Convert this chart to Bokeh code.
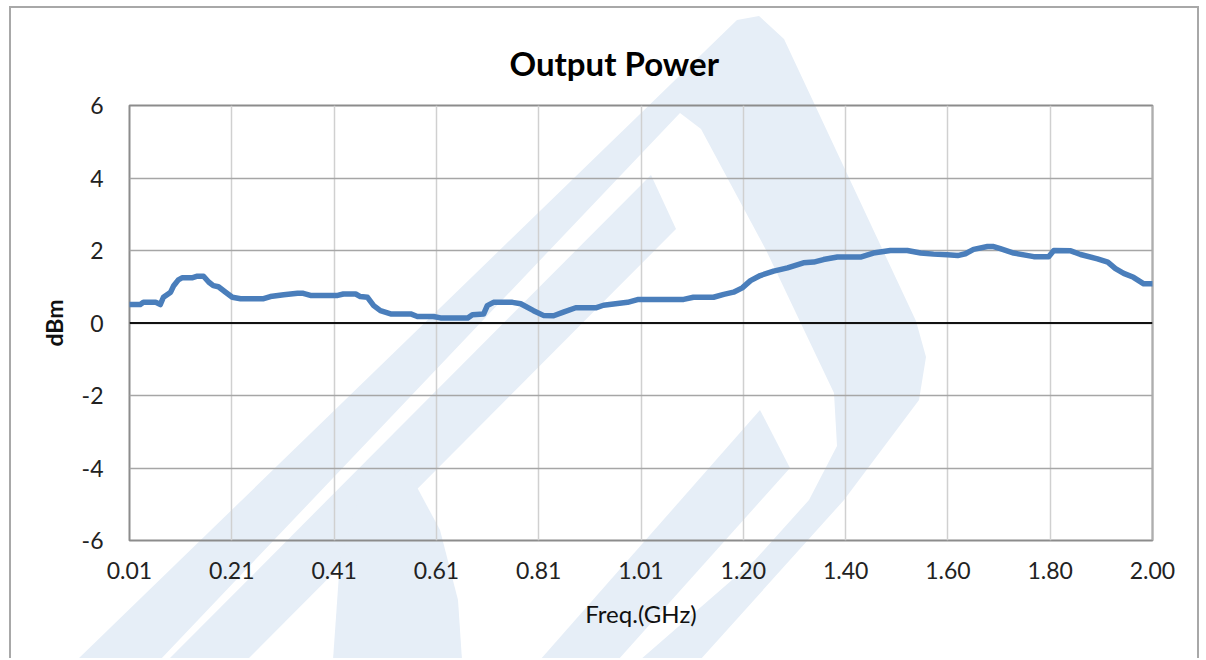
from bokeh.plotting import figure
from bokeh.models import Range1d, FixedTicker, CustomJSTickFormatter, Span
from bokeh.embed import file_html
from bokeh.resources import INLINE

# ---- data ----
freq_ghz = [0.010, 0.031, 0.037, 0.061, 0.070, 0.076, 0.090, 0.096, 0.105, 0.113,
            0.133, 0.142, 0.154, 0.164, 0.173, 0.183, 0.197, 0.210, 0.226, 0.271,
            0.284, 0.310, 0.337, 0.348, 0.362, 0.415, 0.426, 0.450, 0.459, 0.473,
            0.485, 0.498, 0.518, 0.557, 0.570, 0.601, 0.615, 0.668, 0.677, 0.699,
            0.706, 0.718, 0.755, 0.771, 0.796, 0.815, 0.835, 0.854, 0.878, 0.917,
            0.932, 0.979, 1.000, 1.088, 1.107, 1.146, 1.166, 1.185, 1.202, 1.218,
            1.237, 1.263, 1.290, 1.321, 1.341, 1.360, 1.387, 1.432, 1.457, 1.490,
            1.523, 1.549, 1.574, 1.601, 1.621, 1.636, 1.652, 1.679, 1.691, 1.704,
            1.730, 1.769, 1.798, 1.808, 1.841, 1.860, 1.893, 1.913, 1.928, 1.944,
            1.963, 1.983, 2.000]
power_dbm = [0.51, 0.51, 0.57, 0.57, 0.51, 0.71, 0.85, 1.03, 1.19, 1.25,
             1.25, 1.29, 1.29, 1.13, 1.03, 1.00, 0.85, 0.71, 0.67, 0.67,
             0.73, 0.78, 0.82, 0.82, 0.76, 0.76, 0.80, 0.80, 0.73, 0.71,
             0.48, 0.34, 0.25, 0.25, 0.18, 0.18, 0.14, 0.14, 0.23, 0.25,
             0.48, 0.57, 0.57, 0.53, 0.34, 0.21, 0.20, 0.30, 0.42, 0.42,
             0.49, 0.57, 0.65, 0.65, 0.71, 0.71, 0.79, 0.85, 0.97, 1.17,
             1.31, 1.43, 1.52, 1.66, 1.68, 1.75, 1.82, 1.82, 1.93, 2.00,
             2.00, 1.93, 1.90, 1.88, 1.86, 1.91, 2.03, 2.11, 2.11, 2.05,
             1.93, 1.83, 1.83, 2.00, 1.99, 1.89, 1.77, 1.68, 1.50, 1.37,
             1.26, 1.08, 1.08]

x_tick_labels = ["0.01", "0.21", "0.41", "0.61", "0.81", "1.01",
                 "1.20", "1.40", "1.60", "1.80", "2.00"]
y_ticks = [-6, -4, -2, 0, 2, 4, 6]

x_start, x_end = 0.01, 2.00
n_int = len(x_tick_labels) - 1
x_tick_pos = [x_start + k * (x_end - x_start) / n_int for k in range(n_int + 1)]

FONT = "Lato"

# faint logo watermark behind the chart (decoration, page pixels)
wm_shapes = [
    # outer chevron band (left leg + rounded right leg)
    "77,660 737,20 759,16 784,39 916,321 926,357 919,400 844,500 700,660 "
    "640,660 755,560 809,500 837,446 834,393 766,250 701,129 680,113 160,660",
    # inner chevron stripe
    "168,660 247,660 676,229 651,175",
    # lower blob
    "333,660 340,560 360,495 386,466 412,478 440,530 458,600 462,660",
    # small arrow stripe
    "760,410 790,468 618,660 540,660",
]
wm_svg = ("<svg xmlns='http://www.w3.org/2000/svg' width='1206' height='660'>"
          "<g transform='translate(-11,-8)' fill='%23e6eef7'>"
          + "".join(f"<polygon points='{s}'/>" for s in wm_shapes)
          + "</g></svg>")

p = figure(width=1190, height=652, output_backend="svg", toolbar_location=None,
           x_range=Range1d(x_start, x_end), y_range=Range1d(-6, 6),
           min_border_left=118, min_border_right=49, min_border_top=97,
           min_border_bottom=120)
p.margin = (6, 0, 0, 9)

p.title.text = "Output Power"
p.title.align = "left"
p.title.offset = 380
p.title.text_font = FONT
p.title.text_font_size = "33px"
p.title.text_font_style = "bold"
p.title.text_color = "#000000"
p.title.standoff = 45

p.background_fill_color = None
p.border_fill_color = None
p.outline_line_color = "#8c8c8c"
p.outline_line_width = 2

# axes
ticker = FixedTicker(ticks=x_tick_pos)
p.xaxis.ticker = ticker
p.xaxis.formatter = CustomJSTickFormatter(
    args=dict(labels=x_tick_labels, x0=x_start, step=(x_end - x_start) / n_int),
    code="return labels[Math.round((tick - x0) / step)];")
p.yaxis.ticker = FixedTicker(ticks=y_ticks)
p.yaxis.formatter = CustomJSTickFormatter(code="return tick.toFixed(0);")

for ax in (p.xaxis[0], p.yaxis[0]):
    ax.axis_line_color = None
    ax.major_tick_line_color = None
    ax.minor_tick_line_color = None
    ax.major_tick_out = 0
    ax.major_tick_in = 0
    ax.minor_tick_out = 0
    ax.major_label_text_font = FONT
    ax.major_label_text_font_size = "23px"
    ax.major_label_text_color = "#222222"
    ax.axis_label_text_font = FONT
    ax.axis_label_text_color = "#111111"

p.xaxis.major_label_standoff = 21
p.yaxis.major_label_standoff = 26
p.xaxis.axis_label = "Freq.(GHz)"
p.xaxis.axis_label_text_font_size = "24px"
p.xaxis.axis_label_text_font_style = "normal"
p.xaxis.axis_label_standoff = 17
p.yaxis.axis_label = "dBm"
p.yaxis.axis_label_text_font_size = "23px"
p.yaxis.axis_label_text_font_style = "bold"
p.yaxis.axis_label_standoff = 11

p.xgrid.ticker = ticker
p.ygrid.ticker = FixedTicker(ticks=y_ticks)
p.xgrid.grid_line_color = "#d0d0d0"
p.ygrid.grid_line_color = "#a6a6a6"
p.xgrid.grid_line_width = 1.5
p.ygrid.grid_line_width = 1.5

p.add_layout(Span(location=0, dimension="width", line_color="#111111", line_width=2))

p.line(freq_ghz, power_dbm, line_color="#4a7ebb", line_width=5.5, line_join="round",
       line_cap="round")

p.styles = {"border-top": "2px solid #a8a8a8", "border-left": "2px solid #a8a8a8",
            "border-right": "2px solid #a8a8a8",
            "background-color": "white",
            "background-image": f'url("data:image/svg+xml;utf8,{wm_svg}")',
            "background-repeat": "no-repeat"}

open("out.html", "w").write(file_html(p, INLINE))
